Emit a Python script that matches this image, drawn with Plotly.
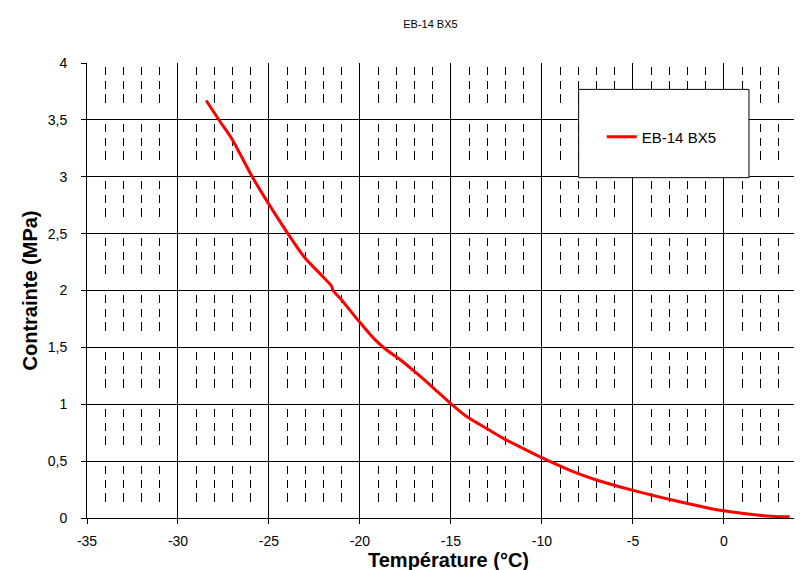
import plotly.graph_objects as go

series_name = "EB-14 BX5"
temperature = [-28.45, -27.71, -27.07, -26.52, -25.92, -25.05, -23.96, -23.04,
               -22.03, -21.57, -21.48, -21.03, -20.11, -19.19, -18.64,
               -17.73, -16.81, -15.90, -14.98, -14.07, -12.97, -12.05, -11.14, -10.04,
               -8.39, -6.92, -5.04, -2.90, -1.07, 0.0, 1.69, 2.6, 3.61]
contrainte = [3.67, 3.49, 3.34, 3.18, 3.00, 2.77, 2.50, 2.29,
              2.12, 2.04, 2.00, 1.92, 1.74, 1.57, 1.49,
              1.385, 1.262, 1.134, 1.002, 0.885, 0.78, 0.694, 0.62, 0.533,
              0.415, 0.33, 0.245, 0.16, 0.095, 0.063, 0.028, 0.015, 0.01]
x_tickvals = [-35, -30, -25, -20, -15, -10, -5, 0]
x_ticktext = ["-35", "-30", "-25", "-20", "-15", "-10", "-5", "0"]

fig = go.Figure()
fig.add_trace(go.Scatter(x=temperature, y=contrainte, mode="lines", name=series_name,
                         line=dict(color="#FF0000", width=3, shape="spline", smoothing=0.8)))

font_family = "Liberation Sans, Arial, sans-serif"
fig.update_layout(
    width=802, height=570,
    margin=dict(l=79, r=0, t=55, b=60),
    paper_bgcolor="white", plot_bgcolor="white",
    separators=", ",
    font=dict(family=font_family, color="black", size=14),
    title=dict(text=series_name, x=0.475, xref="paper", xanchor="center",
               y=1 - 16 / 570, yref="container", yanchor="middle",
               font=dict(size=11, color="black")),
    showlegend=True,
    legend=dict(x=0.712, xanchor="left", y=0.8375, yanchor="middle",
                bgcolor="rgba(0,0,0,0)", borderwidth=0, itemwidth=30,
                font=dict(size=15, color="black")),
    xaxis=dict(range=[-35, 4.73], tickmode="array", tickvals=x_tickvals, ticktext=x_ticktext,
               showgrid=True, gridcolor="black", gridwidth=1, zeroline=False,
               showline=True, linecolor="black", linewidth=1,
               ticks="outside", ticklen=5, tickcolor="black",
               ticklabelstandoff=5,
               minor=dict(dtick=1, tick0=-35, showgrid=True, gridcolor="black", gridwidth=1,
                          griddash="0px,4px,8px,6px,8px,5px,9px,17px", ticks=""),
               title=dict(text="<b>Température (°C)</b>", font=dict(size=20), standoff=3)),
    yaxis=dict(range=[0, 4], dtick=0.5, showgrid=True, gridcolor="black", gridwidth=1,
               zeroline=False, showline=True, linecolor="black", linewidth=1,
               ticks="outside", ticklen=5, tickcolor="black",
               ticklabelstandoff=11,
               title=dict(text="<b>Contrainte (MPa)</b>", font=dict(size=20), standoff=4)),
    shapes=[dict(type="rect", xref="paper", yref="paper", x0=0.680, x1=0.9156,
                 y0=0.748, y1=0.942, fillcolor="white",
                 line=dict(color="black", width=1), layer="above")],
)

fig.write_html("out.html")
